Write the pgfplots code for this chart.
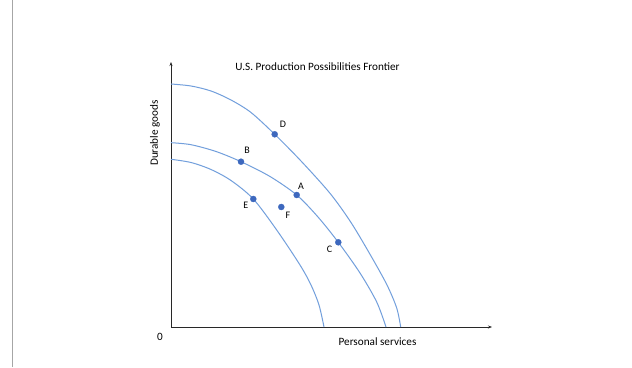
\documentclass[border=0pt]{standalone}
\usepackage{pgfplots}
\pgfplotsset{compat=1.18}
\usepackage{fontspec}
\setmainfont{Carlito}
\usetikzlibrary{arrows.meta}
\definecolor{curve}{RGB}{114,159,220}
\definecolor{pt}{RGB}{61,104,190}
\definecolor{axisc}{RGB}{40,40,40}
\begin{document}
\begin{tikzpicture}[x=1pt,y=1pt]
\path[use as bounding box,fill=white] (0,0) rectangle (632,367);
\draw[gray!70,line width=1pt] (12.7,0) -- (12.7,367);
\begin{axis}[
  at={(171pt,40pt)}, anchor=south west,
  scale only axis, width=321pt, height=265pt,
  xmin=0, xmax=321, ymin=0, ymax=265,
  axis lines=left,
  axis line style={axisc,line width=0.9pt,-{Stealth[length=4pt,width=3pt]}},
  xtick=\empty, ytick=\empty,
  clip=false,
]
\addplot[curve, line width=1pt, smooth] coordinates {
(0,243) (20,241) (40,236) (60,227) (80,214.5) (103.7,192.7) (130,166)
(159,133.7) (180,104.5) (200,71) (216,42) (225.7,19) (229.7,0)};
\addplot[curve, line width=1pt, smooth] coordinates {
(0,184.3) (20,182.3) (45,175.5) (70,165.3) (99,150.5) (125.7,132) (147,110)
(167.3,84.7) (189,54) (205.7,25) (215,0)};
\addplot[curve, line width=1pt, smooth] coordinates {
(0,167.7) (20,164.5) (40,157.5) (60,146.5) (82.3,128) (105.7,97) (129,62)
(140,42) (148,22) (153,0)};
\addplot[only marks, mark=*, mark size=3pt, color=pt] coordinates {
(103.7,192.7) (70,165.3) (125.7,132) (82.3,128) (110.3,120) (167.3,84.7)};
\node[font=\fontsize{10}{11}\selectfont] at (axis cs:112,203) {D};
\node[font=\fontsize{10}{11}\selectfont] at (axis cs:76,177) {B};
\node[font=\fontsize{10}{11}\selectfont] at (axis cs:130,141) {A};
\node[font=\fontsize{10}{11}\selectfont] at (axis cs:74.7,122) {E};
\node[font=\fontsize{10}{11}\selectfont] at (axis cs:117,112) {F};
\node[font=\fontsize{10}{11}\selectfont] at (axis cs:158.5,78) {C};
\node[font=\fontsize{11.2}{12}\selectfont] at (axis cs:146.5,260.3) {U.S. Production Possibilities Frontier};
\node[font=\fontsize{11.2}{12}\selectfont, rotate=90] at (axis cs:-16,194) {Durable goods};
\node[font=\fontsize{11.2}{12}\selectfont] at (axis cs:-11,-10) {0};
\node[font=\fontsize{11.2}{12}\selectfont] at (axis cs:206.5,-15) {Personal services};
\end{axis}
\end{tikzpicture}
\end{document}
